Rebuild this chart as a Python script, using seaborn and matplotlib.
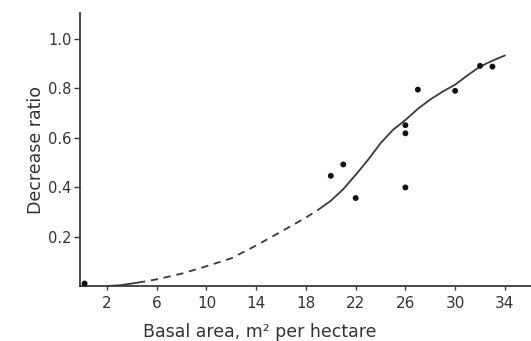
import numpy as np
import pandas as pd
import matplotlib
matplotlib.use("Agg")
import matplotlib.pyplot as plt
import seaborn as sns

# Observed plots: basal area (m² per hectare) vs. decrease ratio
basal_area = [0.2, 20, 21, 22, 26, 26, 26, 27, 30, 32, 33]
decrease_ratio = [0.01, 0.446, 0.492, 0.356, 0.618, 0.651, 0.399, 0.795, 0.790, 0.891, 0.888]

# Fitted curve, read at selected basal areas
curve_x = [2, 3, 4, 4.5, 5, 6, 8, 10, 12, 14, 16, 18, 19, 20, 21, 22, 23, 24, 25, 26,
           27, 28, 29, 30, 31, 32, 33, 34]
curve_y = [0.0, 0.003, 0.01, 0.014, 0.018, 0.027, 0.05, 0.08, 0.112, 0.164, 0.22, 0.277,
           0.309, 0.345, 0.392, 0.45, 0.511, 0.578, 0.632, 0.672, 0.717, 0.755, 0.787,
           0.815, 0.853, 0.888, 0.912, 0.933]
# Range of the curve that is extrapolated (drawn dashed)
dash_from, dash_to = 4.5, 19

x_ticks = [2, 6, 10, 14, 18, 22, 26, 30, 34]
y_ticks = [0.2, 0.4, 0.6, 0.8, 1.0]

sns.set_theme(style="white")
plt.rcParams["font.family"] = ["DejaVu Sans"]

ink = "#3a3a3a"
fig = plt.figure(figsize=(5.31, 3.41), dpi=100)
ax = fig.add_axes([80 / 531, 55 / 341, 451 / 531, 273 / 341])

curve = pd.DataFrame({"x": curve_x, "y": curve_y})
parts = [
    (curve[curve.x <= dash_from], "-"),
    (curve[(curve.x >= dash_from) & (curve.x <= dash_to)], (0, (4, 3.2))),
    (curve[curve.x >= dash_to], "-"),
]
for part, style in parts:
    sns.lineplot(data=part, x="x", y="y", ax=ax, color=ink, lw=1.3,
                 linestyle=style, estimator=None, sort=False)

pts = pd.DataFrame({"x": basal_area, "y": decrease_ratio})
sns.scatterplot(data=pts, x="x", y="y", ax=ax, color="#111111", s=18,
                edgecolor="none", zorder=5, clip_on=False)

ax.set_xlim(-0.17, 36.1)
ax.set_ylim(0, 1.105)
ax.set_xticks(x_ticks)
ax.set_xticklabels([str(v) for v in x_ticks])
ax.set_yticks(y_ticks)
ax.set_yticklabels([f"{v:.1f}" for v in y_ticks])

for side in ("top", "right"):
    ax.spines[side].set_visible(False)
for side in ("left", "bottom"):
    ax.spines[side].set_color(ink)
    ax.spines[side].set_linewidth(1.3)

ax.tick_params(axis="x", direction="out", length=3, width=1, color=ink,
               labelsize=11, labelcolor="#333333", pad=4, bottom=True)
ax.tick_params(axis="y", direction="out", length=4, width=1, color=ink,
               labelsize=10.5, labelcolor="#333333", pad=2, left=True)

ax.set_xlabel("Basal area, m² per hectare", fontsize=12.5, color="#333333")
ax.xaxis.set_label_coords(0.399, -0.135)
ax.set_ylabel("Decrease ratio", fontsize=12.5, color="#333333")
ax.yaxis.set_label_coords(-0.078, 0.5)

fig.savefig("out.png", dpi=100)
